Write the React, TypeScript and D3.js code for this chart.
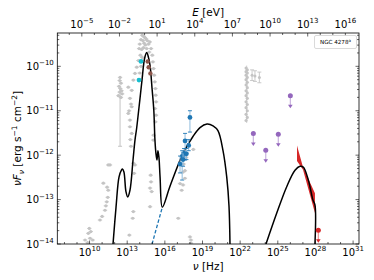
import React from 'react';
import * as d3 from 'd3';

// all values are log10: [log nu (Hz), log nuFnu (erg s^-1 cm^-2)]
const modelSync: [number, number][] = [
  [11.87, -14.0], [12.11, -13.17], [12.35, -12.49], [12.55, -12.33], [12.62, -12.31],
  [12.74, -12.38], [12.9, -12.82], [13.04, -12.94], [13.22, -12.79], [13.46, -12.12],
  [13.62, -11.66], [13.75, -11.4], [14.02, -10.72], [14.18, -10.31], [14.38, -9.83],
  [14.55, -9.69], [14.66, -9.76], [14.82, -9.98], [14.98, -10.5], [15.12, -10.99],
  [15.21, -11.66], [15.29, -11.96], [15.37, -12.11], [15.45, -11.9], [15.53, -12.05],
  [15.62, -12.5], [15.8, -13.17], [16.41, -12.7], [17.45, -11.96], [18.24, -11.58],
  [18.8, -11.38], [19.36, -11.3], [19.84, -11.34], [20.23, -11.45], [20.63, -11.89],
  [20.93, -12.49], [21.11, -13.14], [21.19, -14.0],
];
const modelIC: [number, number][] = [
  [24.06, -14.0], [24.91, -13.31], [25.71, -12.71], [26.37, -12.34], [26.77, -12.25],
  [27.03, -12.27], [27.43, -12.56], [27.8, -13.01], [27.96, -13.12], [27.96, -14.0],
];
const diskExt: [number, number][] = [[14.98, -14.0], [15.8, -13.17]];

const bowNu = [26.53, 27.01, 27.96];
const bowHi = [-11.78, -12.27, -12.86];
const bowLo = [-12.13, -12.33, -13.3];

const cyanPts: [number, number][] = [[14.1, -9.89], [13.94, -10.31]];
const brownPts: [number, number][] = [[14.63, -9.89], [14.71, -10.02], [14.85, -10.16]];

// [log nu, log F, err lo, err hi]
const xrayPts: [number, number, number, number][] = [
  [18.0, -11.15, -11.48, -11.0], [17.61, -11.68, -12.11, -11.51], [17.9, -11.78, -11.9, -11.65],
  [17.53, -11.96, -12.1, -11.85], [17.72, -11.97, -12.1, -11.85], [17.38, -12.03, -12.56, -11.9],
  [17.21, -12.2, -12.4, -12.02], [17.45, -12.1, -12.25, -11.95],
];

const purpleUL: [number, number][] = [[23.05, -11.51], [24.04, -11.89], [25.04, -11.53], [26.0, -10.66]];
const redUL: [number, number][] = [[28.23, -13.69]];

const grayPts: [number, number][] = [
  [9.64, -13.91], [9.9, -13.76], [9.98, -13.65], [10.04, -13.87], [10.25, -13.91], [10.1, -13.72],
  [9.85, -13.97], [10.83, -13.46], [11.0, -13.38], [11.23, -13.24], [11.3, -13.14], [11.37, -13.05],
  [11.45, -12.95], [11.49, -12.79], [11.4, -12.72], [11.1, -12.63], [11.63, -12.22], [11.49, -12.22],
  [12.43, -10.25], [12.4, -10.32], [12.5, -10.38], [12.35, -10.45], [12.45, -10.5], [12.55, -10.55],
  [12.4, -10.58], [12.6, -10.62], [12.3, -10.66], [12.5, -10.7],
  [13.09, -10.47], [13.22, -10.72], [13.36, -10.91], [13.09, -11.06], [13.22, -11.21], [13.22, -11.36],
  [13.36, -11.51], [13.62, -10.16], [13.76, -10.02], [13.89, -9.87], [13.49, -10.31], [13.36, -10.54],
  [13.3, -10.85], [13.15, -11.0], [13.25, -11.65], [13.3, -11.8], [13.49, -12.18], [13.62, -12.22],
  [13.55, -12.41], [13.49, -13.27], [13.44, -13.42], [13.17, -13.8],
  [14.0, -9.5], [14.1, -9.4], [14.2, -9.3], [14.3, -9.32], [14.4, -9.35], [14.25, -9.42], [14.5, -9.38],
  [14.35, -9.48], [14.6, -9.42], [14.45, -9.52], [14.3, -9.58], [14.55, -9.6], [14.15, -9.62],
  [14.7, -9.5], [14.8, -9.45], [14.9, -9.6], [14.75, -9.68], [14.05, -9.75], [13.95, -9.6], [14.2, -9.8],
  [14.1, -10.0], [14.0, -10.15],
  [15.0, -9.75], [15.05, -9.9], [15.1, -10.05], [15.15, -10.2], [15.2, -10.35], [15.25, -10.5],
  [15.27, -10.65], [15.3, -10.8], [15.22, -10.95], [15.3, -11.1], [15.25, -11.25], [15.1, -11.55],
  [15.08, -11.66], [14.87, -12.45], [14.95, -12.82], [14.82, -13.16], [14.82, -12.74], [14.9, -12.6],
  [17.07, -13.42], [18.0, -13.84], [18.08, -13.91], [18.08, -13.98], [17.34, -12.79], [17.45, -12.67],
  [17.6, -12.52], [18.27, -11.87], [17.45, -12.38], [17.21, -12.64], [17.6, -12.35], [17.5, -12.2],
  [17.7, -12.05],
];
const grayCol = [-10.04, -10.08, -10.12, -10.15, -10.2, -10.25, -10.3, -10.36, -10.42, -10.48,
  -10.55, -10.6, -10.66, -10.72, -10.8, -10.86, -10.93, -11.0, -11.08, -11.15, -11.22];
const grayColNu = 22.52;
const grayErrPts: [number, number][] = [[22.95, -10.2], [23.18, -10.22], [23.53, -10.25]];
const radioErr: [number, number, number] = [12.43, -11.8, -10.5];

const nuTicks = [10, 13, 16, 19, 22, 25, 28, 31];
const eTicks = [-5, -2, 1, 4, 7, 10, 13, 16];
const yTicks = [-14, -13, -12, -11, -10];

const p10 = (v: number) => Math.pow(10, v);
const H_EV = 4.135667e-15;
const L = 57.3, R = 359, T = 33, B = 244;
const FONT = 'DejaVu Sans';

const x = d3.scaleLog().domain([p10(7.43), p10(31.47)]).range([L, R]);
const y = d3.scaleLog().domain([1e-14, p10(-9.25)]).range([B, T]);
const xE = d3.scaleLog().domain([p10(7.43) * H_EV, p10(31.47) * H_EV]).range([L, R]);
const px = (v: number) => x(p10(v));
const py = (v: number) => y(p10(v));

const line = d3.line<[number, number]>().x(d => px(d[0])).y(d => py(d[1])).curve(d3.curveCatmullRom.alpha(0.5));
const bow = d3.area<number>().x((_, i) => px(bowNu[i])).y0((_, i) => py(bowLo[i])).y1((_, i) => py(bowHi[i]));

const Pow = ({ x0, y0, e, anchor }: { x0: number; y0: number; e: number; anchor: string }) => (
  <text x={x0} y={y0} textAnchor={anchor} fontSize={10} fontFamily={FONT} fill="#000">
    10<tspan dy={-4.5} fontSize={7}>{e < 0 ? '\u2212' + Math.abs(e) : e}</tspan>
  </text>
);

const UL = ({ d, color, light }: { d: [number, number]; color: string; light: string }) => {
  const cx = px(d[0]), cy = py(d[1]);
  return (
    <g>
      <line x1={cx} x2={cx} y1={cy} y2={cy + 10} stroke={light} strokeWidth={1.2} />
      <path d={`M${cx - 2.3},${cy + 9}L${cx + 2.3},${cy + 9}L${cx},${cy + 12.5}Z`} fill={color} />
      <circle cx={cx} cy={cy} r={2.5} fill={color} />
    </g>
  );
};

export default function App() {
  const minorY: number[] = [];
  for (let n = -14; n <= -10; n++) for (let k = 2; k <= 9; k++) {
    const v = k * p10(n);
    if (v < p10(-9.25)) minorY.push(v);
  }
  const minorNu = d3.range(8, 32).filter(n => !nuTicks.includes(n));
  const minorE = d3.range(-6, 17).filter(n => !eTicks.includes(n) && xE(p10(n)) > L && xE(p10(n)) < R);
  const gray = '#c4c4c4';

  return (
    <svg width={374} height={280} style={{ position: 'absolute', left: 0, top: 0 }}>
      <defs>
        <clipPath id="plot"><rect x={L} y={T} width={R - L} height={B - T} /></clipPath>
      </defs>
      <g clipPath="url(#plot)">
        {/* archival points */}
        <line x1={px(radioErr[0])} x2={px(radioErr[0])} y1={py(radioErr[1])} y2={py(radioErr[2])} stroke={gray} strokeWidth={1} />
        <line x1={px(radioErr[0]) - 2} x2={px(radioErr[0]) + 2} y1={py(radioErr[1])} y2={py(radioErr[1])} stroke={gray} strokeWidth={1} />
        {grayPts.map((d, i) => (
          <g key={i}>
            <line x1={px(d[0]) - 2.2} x2={px(d[0]) + 2.2} y1={py(d[1])} y2={py(d[1])} stroke={gray} strokeWidth={0.8} />
            <circle cx={px(d[0])} cy={py(d[1])} r={1.6} fill={gray} />
          </g>
        ))}
        {grayCol.map((v, i) => (
          <g key={i}>
            <line x1={px(grayColNu)} x2={px(grayColNu)} y1={py(v) - 2.5} y2={py(v) + 2.5} stroke={gray} strokeWidth={0.8} />
            <circle cx={px(grayColNu) + (i % 2 ? 0.6 : -0.6)} cy={py(v)} r={1.6} fill={gray} />
          </g>
        ))}
        {grayErrPts.map((d, i) => (
          <g key={i} stroke={gray} strokeWidth={0.9}>
            <line x1={px(d[0])} x2={px(d[0])} y1={py(d[1] + 0.12)} y2={py(d[1] - 0.12)} />
            <line x1={px(d[0]) - 2} x2={px(d[0]) + 2} y1={py(d[1] + 0.12)} y2={py(d[1] + 0.12)} />
            <line x1={px(d[0]) - 2} x2={px(d[0]) + 2} y1={py(d[1] - 0.12)} y2={py(d[1] - 0.12)} />
            <circle cx={px(d[0])} cy={py(d[1])} r={1.5} fill={gray} stroke="none" />
          </g>
        ))}

        {/* model */}
        <path d={bow(bowNu) || ''} fill="#d62728" />
        <path d={line(modelSync) || ''} fill="none" stroke="#000" strokeWidth={1.5} />
        <path d={line(modelIC) || ''} fill="none" stroke="#000" strokeWidth={1.5} />
        <path d={d3.line<[number, number]>().x(d => px(d[0])).y(d => py(d[1]))(diskExt) || ''} fill="none" stroke="#1f77b4" strokeWidth={1.3} strokeDasharray="3.5,2" />

        {/* data points */}
        {xrayPts.map((d, i) => {
          const cx = px(d[0]);
          return (
            <g key={i}>
              <line x1={cx} x2={cx} y1={py(d[2])} y2={py(d[3])} stroke="#8fbbdd" strokeWidth={1} />
              <line x1={cx - 2} x2={cx + 2} y1={py(d[2])} y2={py(d[2])} stroke="#1f77b4" strokeWidth={0.9} />
              <line x1={cx - 2} x2={cx + 2} y1={py(d[3])} y2={py(d[3])} stroke="#1f77b4" strokeWidth={0.9} />
              <circle cx={cx} cy={py(d[1])} r={2.4} fill="#1f77b4" />
            </g>
          );
        })}
        {cyanPts.map((d, i) => <circle key={i} cx={px(d[0])} cy={py(d[1])} r={2.4} fill="#17becf" />)}
        {brownPts.map((d, i) => <circle key={i} cx={px(d[0])} cy={py(d[1])} r={2.2} fill="#8c564b" />)}
        {purpleUL.map((d, i) => <UL key={i} d={d} color="#9467bd" light="#c9b3de" />)}
        {redUL.map((d, i) => <UL key={i} d={d} color="#d62728" light="#eb9394" />)}
      </g>

      {/* frame */}
      <rect x={L} y={T} width={R - L} height={B - T} fill="none" stroke="#000" strokeWidth={0.8} />

      {/* ticks */}
      <g stroke="#000" strokeWidth={0.6}>
        {yTicks.map(v => (
          <g key={v}>
            <line x1={L} x2={L + 3.5} y1={py(v)} y2={py(v)} />
            <line x1={R} x2={R - 3.5} y1={py(v)} y2={py(v)} />
          </g>
        ))}
        {minorY.map((v, i) => (
          <g key={i}>
            <line x1={L} x2={L + 2} y1={y(v)} y2={y(v)} />
            <line x1={R} x2={R - 2} y1={y(v)} y2={y(v)} />
          </g>
        ))}
        {nuTicks.map(v => <line key={v} x1={px(v)} x2={px(v)} y1={B} y2={B - 3.5} />)}
        {minorNu.map(v => <line key={v} x1={px(v)} x2={px(v)} y1={B} y2={B - 2} />)}
        {eTicks.map(v => <line key={v} x1={xE(p10(v))} x2={xE(p10(v))} y1={T} y2={T + 3.5} />)}
        {minorE.map(v => <line key={v} x1={xE(p10(v))} x2={xE(p10(v))} y1={T} y2={T + 2} />)}
      </g>

      {/* tick labels */}
      {yTicks.map(v => <Pow key={v} x0={L - 3.5} y0={py(v) + 3.6} e={v} anchor="end" />)}
      {nuTicks.map(v => <Pow key={v} x0={px(v)} y0={255.5} e={v} anchor="middle" />)}
      {eTicks.map(v => <Pow key={v} x0={xE(p10(v))} y0={27.5} e={v} anchor="middle" />)}

      {/* axis labels */}
      <text x={(L + R) / 2} y={269.5} textAnchor="middle" fontSize={10.5} fontFamily={FONT}>
        <tspan fontStyle="italic">ν</tspan> [Hz]
      </text>
      <text x={(L + R) / 2} y={15.5} textAnchor="middle" fontSize={10.5} fontFamily={FONT}>
        <tspan fontStyle="italic">E</tspan> [eV]
      </text>
      <text transform={`translate(21,${(T + B) / 2}) rotate(-90)`} textAnchor="middle" fontSize={10.5} fontFamily={FONT}>
        <tspan fontStyle="italic">νF</tspan><tspan fontStyle="italic" fontSize={7.5} dy={2.5}>ν</tspan>
        <tspan dy={-2.5}> [erg s</tspan><tspan fontSize={7.5} dy={-4}>−1</tspan>
        <tspan dy={4}> cm</tspan><tspan fontSize={7.5} dy={-4}>−2</tspan><tspan dy={4}>]</tspan>
      </text>

      {/* legend */}
      <rect x={314.5} y={35.5} width={42} height={13} rx={1.5} fill="#fff" stroke="#d0d0d0" strokeWidth={0.8} />
      <text x={335.5} y={44} textAnchor="middle" fontSize={5.6} fontFamily={FONT}>
        NGC 4278<tspan fontSize={4} dy={-2}>a</tspan>
      </text>
    </svg>
  );
}
